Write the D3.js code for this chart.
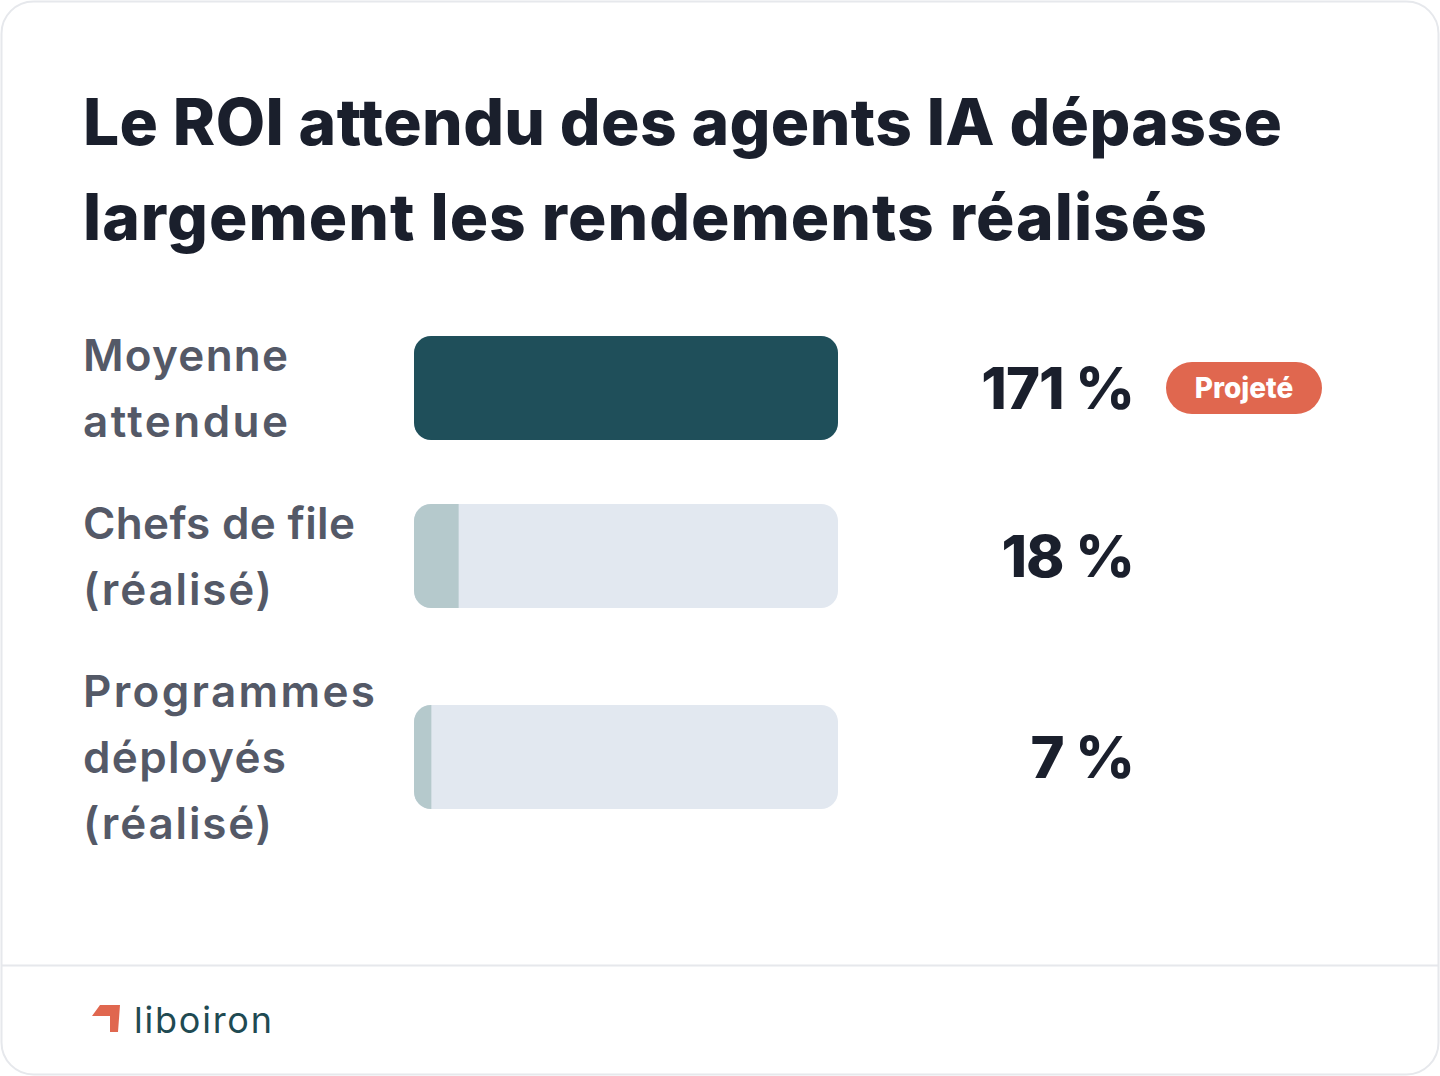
<!DOCTYPE html>
<html>
<head>
<meta charset="utf-8">
<script src="https://cdn.jsdelivr.net/npm/d3@7"></script>
<style>
  html, body { margin: 0; padding: 0; background: #ffffff; }
  svg { display: block; }
</style>
</head>
<body>
<div id="chart"></div>
<script>
// chart data
var titleLines = ["Le ROI attendu des agents IA dépasse", "largement les rendements réalisés"];
var categories = [["Moyenne", "attendue"], ["Chefs de file", "(réalisé)"], ["Programmes", "déployés", "(réalisé)"]];
var values = [171, 18, 7];
var valueLabels = ["171 %", "18 %", "7 %"];
var badges = ["Projeté", null, null];
var brand = "liboiron";

var W = 1440, H = 1076;
var svg = d3.select("#chart").append("svg")
    .attr("width", W)
    .attr("height", H);

//card
svg.append("rect")
    .attr("x", 1.5).attr("y", 1.5)
    .attr("width", W - 3).attr("height", H - 3)
    .attr("rx", 32)
    .attr("fill", "#ffffff")
    .attr("stroke", "#e6e8ec")
    .attr("stroke-width", 2);

// fits a text element to a target width with letter spacing
function fitWidth(sel, target) {
    var node = sel.node();
    var len = node.getComputedTextLength();
    var n = sel.text().length;
    if (n > 1) sel.attr("letter-spacing", (target - len) / (n - 1));
}

//title
var titleWidths = [1199, 1124];
titleLines.forEach(function (t, i) {
    var tt = svg.append("text")
        .attr("x", 83)
        .attr("y", 145 + i * 95)
        .attr("font-family", "Inter, 'Noto Sans', sans-serif")
        .attr("font-weight", 800)
        .attr("font-size", 64)
        .attr("fill", "#1a1f2c")
        .text(t);
    fitWidth(tt, titleWidths[i]);
});

// rows layout: height of each row is the larger of label block and bar
var lineH = 66, barH = 104, rowGap = 36, rowTop = 322;
var rows = [];
var cursor = rowTop;
categories.forEach(function (c, i) {
    var h = Math.max(c.length * lineH, barH);
    rows.push({ lines: c, value: values[i], label: valueLabels[i], badge: badges[i], cy: cursor + h / 2 });
    cursor += h + rowGap;
});

var x = d3.scaleLinear()
    .domain([0, d3.max(values)])
    .range([414, 838]);

var g = svg.selectAll(".row")
    .data(rows)
    .enter().append("g")
    .attr("class", "row");

//labels, each line fitted to the width seen in the reference
var labelWidths = {"Moyenne": 205, "attendue": 205, "Chefs de file": 272, "(réalisé)": 189, "Programmes": 292, "déployés": 203};
g.each(function (d) {
    var sel = d3.select(this);
    var n = d.lines.length;
    d.lines.forEach(function (l, j) {
        var t = sel.append("text")
            .attr("class", "cat")
            .attr("x", 83)
            .attr("y", d.cy + (j - (n - 1) / 2) * lineH + 16)
            .attr("font-family", "Inter, 'Noto Sans', sans-serif")
            .attr("font-weight", 600)
            .attr("font-size", 44)
            .attr("fill", "#545967")
            .text(l);
        fitWidth(t, labelWidths[l]);
    });
});

var clip = svg.append("defs");
rows.forEach(function (d, i) {
    clip.append("clipPath").attr("id", "clip" + i)
        .append("rect")
        .attr("x", x(0)).attr("y", d.cy - barH / 2)
        .attr("width", x.range()[1] - x(0)).attr("height", barH)
        .attr("rx", 17);
});

// track
g.append("rect")
    .attr("x", x(0))
    .attr("y", function (d) { return d.cy - barH / 2; })
    .attr("width", x.range()[1] - x(0))
    .attr("height", barH)
    .attr("rx", 17)
    .attr("fill", "#e2e8f0");

// bar
g.append("rect")
    .attr("clip-path", function (d, i) { return "url(#clip" + i + ")"; })
    .attr("x", x(0))
    .attr("y", function (d) { return d.cy - barH / 2; })
    .attr("width", function (d) { return x(d.value) - x(0); })
    .attr("height", barH)
    .attr("fill", function (d, i) { return i === 0 ? "#1f4f5a" : "#b5c9cc"; });

// values
g.append("text")
    .attr("class", "val")
    .attr("x", 1134)
    .attr("y", function (d) { return d.cy + 21; })
    .attr("text-anchor", "end")
    .attr("font-family", "Inter, 'Noto Sans', sans-serif")
    .attr("font-weight", 800)
    .attr("font-size", 58)
    .attr("letter-spacing", -1)
    .attr("fill", "#1a1f2c")
    .text(function (d) { return d.label; });

// badge
var b = g.filter(function (d) { return d.badge; });
b.append("rect")
    .attr("x", 1166)
    .attr("y", function (d) { return d.cy - 26; })
    .attr("width", 156)
    .attr("height", 52)
    .attr("rx", 26)
    .attr("fill", "#e0674f");
b.append("text")
    .attr("x", 1244)
    .attr("y", function (d) { return d.cy + 10; })
    .attr("text-anchor", "middle")
    .attr("font-family", "Inter, 'Noto Sans', sans-serif")
    .attr("font-weight", 800)
    .attr("font-size", 28)
    .attr("fill", "#ffffff")
    .text(function (d) { return d.badge; });

// footer
svg.append("line")
    .attr("x1", 2).attr("x2", W - 2)
    .attr("y1", 965.5).attr("y2", 965.5)
    .attr("stroke", "#e6e8ec")
    .attr("stroke-width", 2);

svg.append("path")
    .attr("d", "M100,1005 L120,1005 L118,1032 L110,1032 L110,1016 L92,1016 Z")
    .attr("fill", "#e0674f");

var logo = svg.append("text")
    .attr("x", 134)
    .attr("y", 1033)
    .attr("font-family", "Inter, 'Noto Sans', sans-serif")
    .attr("font-weight", 400)
    .attr("font-size", 36)
    .attr("fill", "#1f4a52")
    .text(brand);
fitWidth(logo, 138);
</script>
</body>
</html>
